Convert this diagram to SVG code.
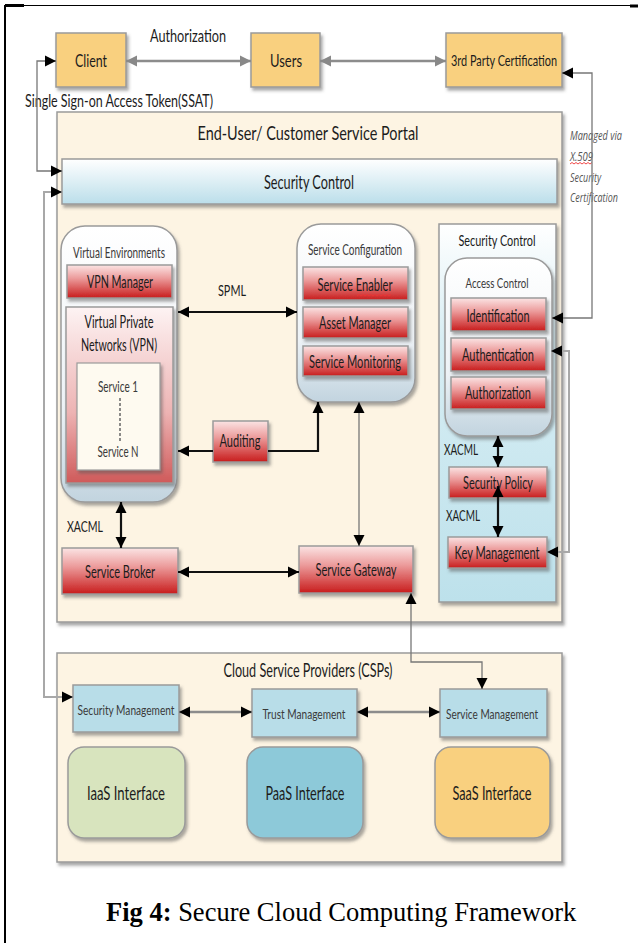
<svg xmlns="http://www.w3.org/2000/svg" width="638" height="943" viewBox="0 0 638 943">
<style>
  .t { font-family: Lato, "Open Sans", "Liberation Sans", sans-serif; fill: #1c1c1c; text-anchor: middle; }
  .s { font-family: Lato, "Open Sans", "Liberation Sans", sans-serif; fill: #3a3a3a; text-anchor: middle; }
  .it { font-family: "Open Sans", Lato, "Liberation Sans", sans-serif; font-style: italic; fill: #555; font-size: 12px; }
  .cap { font-family: "Liberation Serif", "Times New Roman", serif; font-size: 26.5px; fill: #000; }
  .box { stroke: #9a9a9a; stroke-width: 1.5; }
  .org { fill: #F9D07F; }
  .red { fill: url(#gRed); }
  .lb { fill: #B8DDE8; }
  .cream { fill: #FDF4E3; }
  .blk { fill: none; stroke: #111; stroke-width: 2.2; }
  .gry { fill: none; stroke: #8c8c8c; stroke-width: 2.5; }
  .thin { fill: none; stroke: #777; stroke-width: 1.3; }
  .lite { fill: none; stroke: #a8a8a8; stroke-width: 2; }
</style>
<defs>
  <linearGradient id="gRed" x1="0" y1="0" x2="0" y2="1">
    <stop offset="0" stop-color="#FBE4E4"/>
    <stop offset="0.4" stop-color="#EC9C9C"/>
    <stop offset="1" stop-color="#C81C1C"/>
  </linearGradient>
  <linearGradient id="gVpn" x1="0" y1="0" x2="0" y2="1">
    <stop offset="0" stop-color="#FDF3F3"/>
    <stop offset="0.6" stop-color="#EDB3B3"/>
    <stop offset="1" stop-color="#CF5A5A"/>
  </linearGradient>
  <linearGradient id="gCont" x1="0" y1="0" x2="0" y2="1">
    <stop offset="0" stop-color="#FFFFFF"/>
    <stop offset="0.65" stop-color="#EDF2F6"/>
    <stop offset="1" stop-color="#C2D4DF"/>
  </linearGradient>
  <linearGradient id="gBar" x1="0" y1="0" x2="0" y2="1">
    <stop offset="0" stop-color="#FFFFFF"/>
    <stop offset="1" stop-color="#BBDEEA"/>
  </linearGradient>
  <linearGradient id="gRight" x1="0" y1="0" x2="0" y2="1">
    <stop offset="0" stop-color="#FFFFFF"/>
    <stop offset="0.3" stop-color="#D8EEF4"/>
    <stop offset="1" stop-color="#BDE1EB"/>
  </linearGradient>
  <filter id="sh" x="-10%" y="-10%" width="125%" height="130%">
    <feDropShadow dx="2" dy="3" stdDeviation="1.5" flood-color="#555" flood-opacity="0.5"/>
  </filter>
  <marker id="ab" viewBox="0 0 10 10" refX="10" refY="5" markerWidth="11" markerHeight="12" markerUnits="userSpaceOnUse" orient="auto-start-reverse">
    <path d="M0,0 L10,5 L0,10 z" fill="#000"/>
  </marker>
  <marker id="ag" viewBox="0 0 10 10" refX="10" refY="5" markerWidth="11" markerHeight="13" markerUnits="userSpaceOnUse" orient="auto-start-reverse">
    <path d="M0,0 L10,5 L0,10 z" fill="#888"/>
  </marker>
</defs>

<rect width="638" height="943" fill="#fff"/>

<!-- page frame -->
<g id="frame" stroke="#000">
  <line x1="5" y1="5" x2="5" y2="943" stroke-width="2"/>
  <line x1="5" y1="5.5" x2="632" y2="5.5" stroke-width="1.2"/>
  <line x1="5" y1="5.5" x2="24" y2="5.5" stroke-width="3"/>
  <line x1="630" y1="6" x2="638" y2="6" stroke-width="3"/>
</g>

<!-- top row -->
<g id="client">
  <rect class="box org" x="56" y="33" width="70" height="54" filter="url(#sh)"/>
  <text class="t" x="91" y="67" font-size="18" textLength="32" lengthAdjust="spacingAndGlyphs">Client</text>
</g>
<g id="users">
  <rect class="box org" x="251" y="33" width="69" height="54" filter="url(#sh)"/>
  <text class="t" x="286" y="67" font-size="18" textLength="32" lengthAdjust="spacingAndGlyphs">Users</text>
</g>
<g id="third-party">
  <rect class="box org" x="446" y="33" width="116" height="54" filter="url(#sh)"/>
  <text class="t" x="504" y="66" font-size="16" textLength="106" lengthAdjust="spacingAndGlyphs">3rd Party Certification</text>
</g>
<text class="t" x="188" y="42" font-size="17" textLength="76" lengthAdjust="spacingAndGlyphs">Authorization</text>
<text class="t" x="119" y="107" font-size="17" textLength="188" lengthAdjust="spacingAndGlyphs">Single Sign-on Access Token(SSAT)</text>

<!-- X.509 note -->
<g id="x509-note">
  <text class="it" x="570" y="140" textLength="52" lengthAdjust="spacingAndGlyphs">Managed via</text>
  <text class="it" x="570" y="161" textLength="23" lengthAdjust="spacingAndGlyphs">X.509</text>
  <path d="M570,164 l2,-1.5 l2,1.5 l2,-1.5 l2,1.5 l2,-1.5 l2,1.5 l2,-1.5 l2,1.5 l2,-1.5 l2,1.5 l2,-1.5" fill="none" stroke="#e33" stroke-width="0.9"/>
  <text class="it" x="570" y="182" textLength="31" lengthAdjust="spacingAndGlyphs">Security</text>
  <text class="it" x="570" y="202" textLength="48" lengthAdjust="spacingAndGlyphs">Certification</text>
</g>

<!-- end-user portal -->
<g id="portal">
  <rect class="box cream" x="57" y="112" width="505" height="510" filter="url(#sh)"/>
  <text class="t" x="308" y="140" font-size="19" textLength="221" lengthAdjust="spacingAndGlyphs">End-User/ Customer Service Portal</text>
</g>
<g id="security-control-bar">
  <rect class="box" x="62" y="159" width="495" height="45" fill="url(#gBar)" filter="url(#sh)"/>
  <text class="t" x="309" y="189" font-size="19" textLength="90" lengthAdjust="spacingAndGlyphs">Security Control</text>
</g>

<!-- virtual environments -->
<g id="virtual-environments">
  <rect class="box" x="61" y="226" width="116" height="276" rx="24" fill="url(#gCont)" filter="url(#sh)"/>
  <text class="s" x="119" y="258" font-size="15" textLength="92" lengthAdjust="spacingAndGlyphs">Virtual Environments</text>
</g>
<g id="vpn-manager">
  <rect class="box red" x="67" y="265" width="105" height="33" filter="url(#sh)"/>
  <text class="t" x="120" y="288" font-size="17" textLength="66" lengthAdjust="spacingAndGlyphs">VPN Manager</text>
</g>
<g id="vpn">
  <rect class="box" x="66" y="307" width="107" height="176" fill="url(#gVpn)" filter="url(#sh)"/>
  <text class="t" x="119" y="328" font-size="17" textLength="69" lengthAdjust="spacingAndGlyphs">Virtual Private</text>
  <text class="t" x="119" y="351" font-size="17" textLength="76" lengthAdjust="spacingAndGlyphs">Networks (VPN)</text>
  <rect x="77" y="363" width="83" height="107" fill="#FEFAF0" stroke="#9a9a9a" stroke-width="1.2" filter="url(#sh)"/>
  <text class="s" x="118" y="392" font-size="15" textLength="40" lengthAdjust="spacingAndGlyphs">Service 1</text>
  <line x1="120" y1="398" x2="120" y2="441" stroke="#666" stroke-width="1.5" stroke-dasharray="3,2"/>
  <text class="s" x="118" y="457" font-size="15" textLength="41" lengthAdjust="spacingAndGlyphs">Service N</text>
</g>

<!-- service configuration -->
<g id="service-configuration">
  <rect class="box" x="297" y="224" width="118" height="178" rx="24" fill="url(#gCont)" filter="url(#sh)"/>
  <text class="s" x="355" y="255" font-size="15" textLength="94" lengthAdjust="spacingAndGlyphs">Service Configuration</text>
</g>
<g id="service-enabler">
  <rect class="box red" x="303" y="267" width="105" height="33" filter="url(#sh)"/>
  <text class="t" x="355" y="291" font-size="17" textLength="75" lengthAdjust="spacingAndGlyphs">Service Enabler</text>
  <path d="M357,296 l2,-1.5 l2,1.5 l2,-1.5 l2,1.5 l2,-1.5 l2,1.5 l2,-1.5 l2,1.5 l2,-1.5 l2,1.5 l2,-1.5 l2,1.5 l2,-1.5 l2,1.5 l2,-1.5 l2,1.5 l2,-1.5" fill="none" stroke="#e33" stroke-width="0.9"/>
</g>
<g id="asset-manager">
  <rect class="box red" x="303" y="307" width="105" height="31" filter="url(#sh)"/>
  <text class="t" x="355" y="329" font-size="17" textLength="72" lengthAdjust="spacingAndGlyphs">Asset Manager</text>
</g>
<g id="service-monitoring">
  <rect class="box red" x="303" y="346" width="105" height="30" filter="url(#sh)"/>
  <text class="t" x="355" y="368" font-size="17" textLength="92" lengthAdjust="spacingAndGlyphs">Service Monitoring</text>
</g>

<g id="auditing">
  <rect class="box red" x="213" y="421" width="55" height="41" filter="url(#sh)"/>
  <text class="t" x="240" y="447" font-size="17" textLength="41" lengthAdjust="spacingAndGlyphs">Auditing</text>
</g>

<!-- right security control panel -->
<g id="security-control-panel">
  <rect class="box" x="439" y="224" width="117" height="378" fill="url(#gRight)" filter="url(#sh)"/>
  <text class="t" x="497" y="246" font-size="16" textLength="77" lengthAdjust="spacingAndGlyphs">Security Control</text>
</g>
<g id="access-control">
  <rect class="box" x="445" y="258" width="107" height="178" rx="22" fill="url(#gCont)" filter="url(#sh)"/>
  <text class="s" x="497" y="288" font-size="14" textLength="63" lengthAdjust="spacingAndGlyphs">Access Control</text>
</g>
<g id="identification">
  <rect class="box red" x="451" y="298" width="95" height="33" filter="url(#sh)"/>
  <text class="t" x="498" y="322" font-size="17" textLength="63" lengthAdjust="spacingAndGlyphs">Identification</text>
</g>
<g id="authentication">
  <rect class="box red" x="451" y="338" width="95" height="33" filter="url(#sh)"/>
  <text class="t" x="498" y="361" font-size="17" textLength="72" lengthAdjust="spacingAndGlyphs">Authentication</text>
</g>
<g id="authorization">
  <rect class="box red" x="451" y="377" width="95" height="32" filter="url(#sh)"/>
  <text class="t" x="498" y="399" font-size="17" textLength="66" lengthAdjust="spacingAndGlyphs">Authorization</text>
</g>
<g id="security-policy">
  <rect class="box red" x="449" y="467" width="98" height="31" filter="url(#sh)"/>
  <text class="t" x="498" y="489" font-size="17" textLength="70" lengthAdjust="spacingAndGlyphs">Security Policy</text>
</g>
<g id="key-management">
  <rect class="box red" x="448" y="537" width="99" height="31" filter="url(#sh)"/>
  <text class="t" x="497" y="559" font-size="17" textLength="85" lengthAdjust="spacingAndGlyphs">Key Management</text>
</g>
<text class="t" x="461" y="455" font-size="16" textLength="34" lengthAdjust="spacingAndGlyphs">XACML</text>
<text class="t" x="463" y="521" font-size="16" textLength="34" lengthAdjust="spacingAndGlyphs">XACML</text>

<!-- broker / gateway -->
<g id="service-broker">
  <rect class="box red" x="62" y="548" width="116" height="46" filter="url(#sh)"/>
  <text class="t" x="120" y="578" font-size="17" textLength="70" lengthAdjust="spacingAndGlyphs">Service Broker</text>
</g>
<g id="service-gateway">
  <rect class="box red" x="299" y="546" width="114" height="47" filter="url(#sh)"/>
  <text class="t" x="356" y="576" font-size="17" textLength="81" lengthAdjust="spacingAndGlyphs">Service Gateway</text>
</g>
<text class="t" x="85" y="532" font-size="16" textLength="36" lengthAdjust="spacingAndGlyphs">XACML</text>
<text class="t" x="232" y="296" font-size="16" textLength="28" lengthAdjust="spacingAndGlyphs">SPML</text>

<!-- cloud service providers -->
<g id="csp">
  <rect class="box cream" x="57" y="653" width="505" height="209" filter="url(#sh)"/>
  <text class="t" x="308" y="677" font-size="19" textLength="169" lengthAdjust="spacingAndGlyphs">Cloud Service Providers (CSPs)</text>
</g>
<g id="security-management">
  <rect class="box lb" x="73" y="685" width="106" height="47" filter="url(#sh)"/>
  <text class="s" x="126" y="715" font-size="14" textLength="97" lengthAdjust="spacingAndGlyphs">Security Management</text>
</g>
<g id="trust-management">
  <rect class="box lb" x="252" y="689" width="105" height="48" filter="url(#sh)"/>
  <text class="s" x="304" y="719" font-size="14" textLength="83" lengthAdjust="spacingAndGlyphs">Trust Management</text>
</g>
<g id="service-management">
  <rect class="box lb" x="440" y="689" width="107" height="48" filter="url(#sh)"/>
  <text class="s" x="492" y="719" font-size="14" textLength="92" lengthAdjust="spacingAndGlyphs">Service Management</text>
</g>
<g id="iaas">
  <rect class="box" x="68" y="747" width="117" height="91" rx="16" fill="#D8E4BE" filter="url(#sh)"/>
  <text class="t" x="126" y="800" font-size="20" textLength="78" lengthAdjust="spacingAndGlyphs">IaaS Interface</text>
</g>
<g id="paas">
  <rect class="box" x="247" y="747" width="116" height="91" rx="16" fill="#8DC9D9" filter="url(#sh)"/>
  <text class="t" x="305" y="800" font-size="20" textLength="79" lengthAdjust="spacingAndGlyphs">PaaS Interface</text>
</g>
<g id="saas">
  <rect class="box" x="435" y="747" width="115" height="91" rx="16" fill="#F9D07F" filter="url(#sh)"/>
  <text class="t" x="492" y="800" font-size="20" textLength="79" lengthAdjust="spacingAndGlyphs">SaaS Interface</text>
</g>

<!-- connectors -->
<g id="connectors">
  <line class="gry" x1="126" y1="61" x2="251" y2="61" marker-start="url(#ag)" marker-end="url(#ag)"/>
  <line class="gry" x1="320" y1="61" x2="446" y2="61" marker-start="url(#ag)" marker-end="url(#ag)"/>
  <path class="thin" d="M56,61 H37 V171 H62" marker-start="url(#ab)" marker-end="url(#ab)"/>
  <path class="lite" d="M62,192 H44 V697 H73" marker-start="url(#ab)" marker-end="url(#ab)"/>
  <path class="thin" d="M562,73 H592 V318 H552" marker-start="url(#ab)" marker-end="url(#ab)"/>
  <path class="lite" d="M551,351 H569 V552 H547" marker-start="url(#ab)" marker-end="url(#ab)"/>
  <line class="blk" x1="178" y1="312" x2="297" y2="312" marker-start="url(#ab)" marker-end="url(#ab)"/>
  <line class="blk" x1="213" y1="451" x2="178" y2="451" marker-end="url(#ab)"/>
  <path class="blk" d="M268,451 H318 V402" marker-end="url(#ab)"/>
  <line class="thin" x1="359" y1="402" x2="359" y2="546" marker-start="url(#ab)" marker-end="url(#ab)"/>
  <line class="blk" x1="121" y1="502" x2="121" y2="548" marker-start="url(#ab)" marker-end="url(#ab)"/>
  <line class="blk" x1="178" y1="572" x2="299" y2="572" marker-start="url(#ab)" marker-end="url(#ab)"/>
  <path class="thin" d="M411,593 V662 H482 V689" marker-start="url(#ab)" marker-end="url(#ab)"/>
  <line class="blk" x1="498" y1="436" x2="498" y2="467" marker-start="url(#ab)" marker-end="url(#ab)"/>
  <line class="blk" x1="498" y1="486" x2="498" y2="537" marker-start="url(#ab)" marker-end="url(#ab)"/>
  <line class="gry" x1="179" y1="712" x2="252" y2="712" marker-start="url(#ab)" marker-end="url(#ab)"/>
  <line class="gry" x1="357" y1="712" x2="440" y2="712" marker-start="url(#ab)" marker-end="url(#ab)"/>
</g>

<!-- caption -->
<text class="cap" x="106" y="921"><tspan font-weight="bold">Fig 4:</tspan> Secure Cloud Computing Framework</text>
</svg>
